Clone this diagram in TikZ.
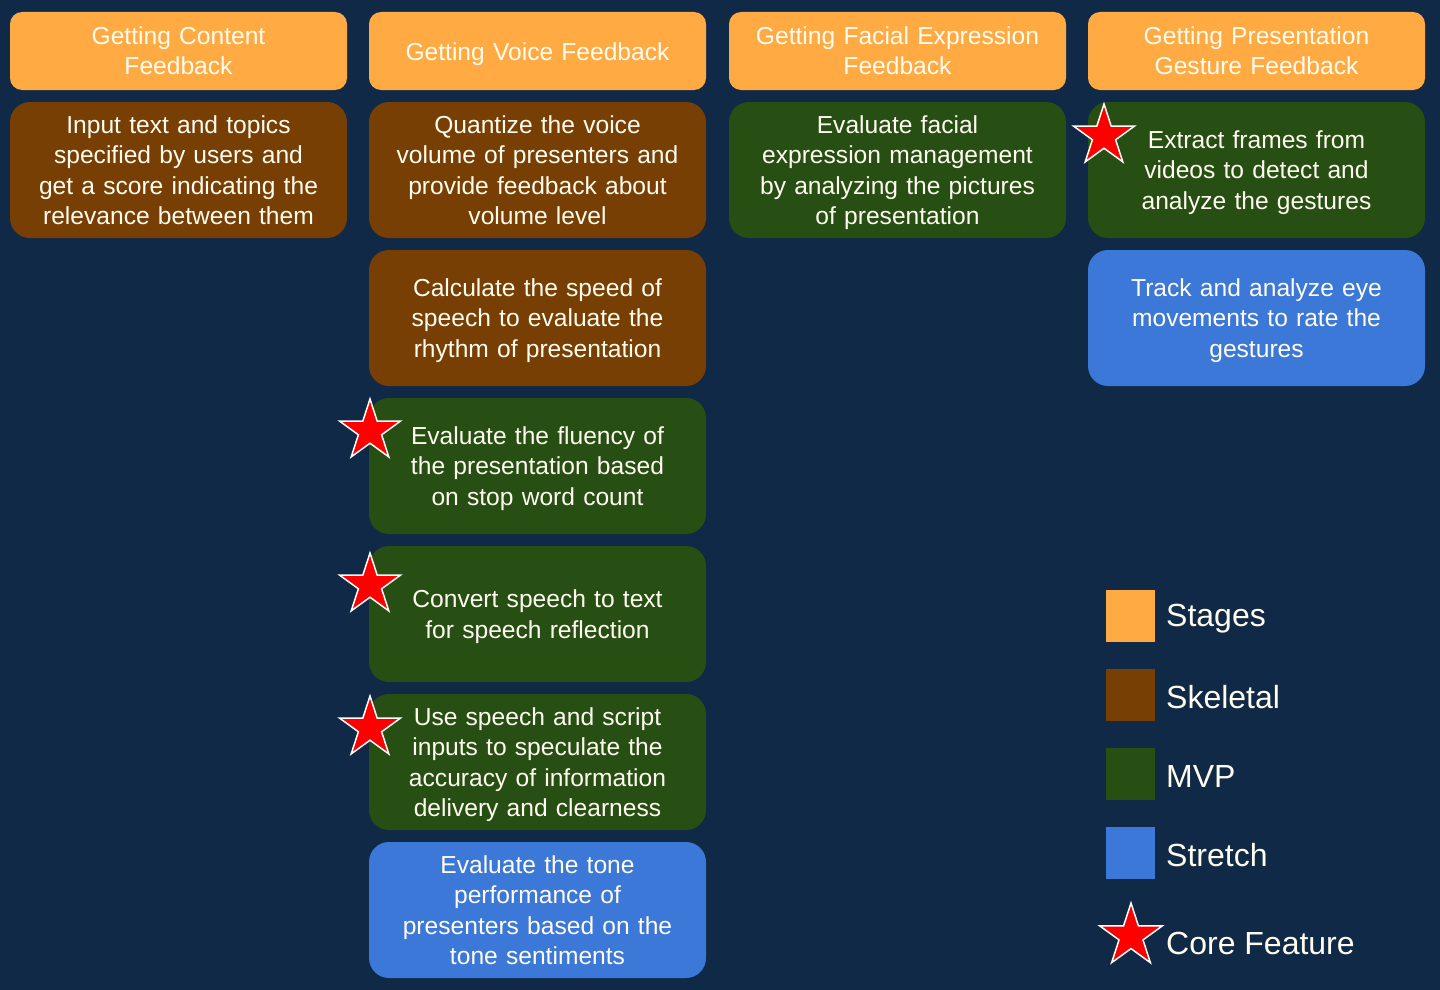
\documentclass[tikz,border=0pt]{standalone}
\usepackage{fontspec}
\setmainfont{Liberation Sans}
\usetikzlibrary{shapes.geometric}
\definecolor{bgnavy}{RGB}{16,41,71}
\definecolor{stagecol}{RGB}{255,170,66}
\definecolor{skelcol}{RGB}{120,63,4}
\definecolor{mvpcol}{RGB}{39,78,19}
\definecolor{stretchcol}{RGB}{60,120,216}
\definecolor{txtcol}{RGB}{255,252,240}
\tikzset{
  % uniform line boxes: fixed top and bottom struts keep every block centred alike
  boxtext/.style={inner sep=0pt, text width=330pt, align=center, text=txtcol,
    execute at begin node={\rule{0pt}{27pt}}, execute at end node={\strut}},
  stagebox/.style={boxtext, fill=stagecol, rounded corners=12pt, minimum width=337pt,
    minimum height=78pt, font=\fontsize{24.6}{30}\selectfont},
  card/.style={boxtext, rounded corners=20pt, minimum width=337pt, minimum height=136pt,
    font=\fontsize{24.6}{30.5}\selectfont},
  skel/.style={card, fill=skelcol},
  mvp/.style={card, fill=mvpcol},
  stretch/.style={card, fill=stretchcol},
  corestar/.style={star, star points=5, star point ratio=2.618, minimum size=64pt,
    inner sep=0pt, fill=red, draw=white, line width=1.5pt},
  keybox/.style={minimum width=49pt, minimum height=52pt, inner sep=0pt},
  keytext/.style={anchor=west, text=txtcol, inner sep=0pt, font=\fontsize{32}{36}\selectfont},
}
\begin{document}
\begin{tikzpicture}[x=1pt,y=-1pt]
\fill[bgnavy] (0,0) rectangle (1440,990);
\useasboundingbox (0,0) rectangle (1440,990);

% stage headers
\node[stagebox] (h1) at (178.5,51) {Getting Content\\Feedback};
\node[stagebox] (h2) at (537.5,51) {Getting Voice Feedback};
\node[stagebox] (h3) at (897.5,51) {Getting Facial Expression\\Feedback};
\node[stagebox] (h4) at (1256.5,51) {Getting Presentation\\Gesture Feedback};

% content column
\node[skel] (c1) at (178.5,170) {Input text and topics\\specified by users and\\get a score indicating the\\relevance between them};

% voice column
\node[skel] (v1) at (537.5,170) {Quantize the voice\\volume of presenters and\\provide feedback about\\volume level};
\node[skel] (v2) at (537.5,318) {Calculate the speed of\\speech to evaluate the\\rhythm of presentation};
\node[mvp] (v3) at (537.5,466) {Evaluate the fluency of\\the presentation based\\on stop word count};
\node[mvp] (v4) at (537.5,614) {Convert speech to text\\for speech reflection};
\node[mvp] (v5) at (537.5,762) {Use speech and script\\inputs to speculate the\\accuracy of information\\delivery and clearness};
\node[stretch] (v6) at (537.5,910) {Evaluate the tone\\performance of\\presenters based on the\\tone sentiments};

% facial column
\node[mvp] (f1) at (897.5,170) {Evaluate facial\\expression management\\by analyzing the pictures\\of presentation};

% gesture column
\node[mvp] (g1) at (1256.5,170) {Extract frames from\\videos to detect and\\analyze the gestures};
\node[stretch] (g2) at (1256.5,318) {Track and analyze eye\\movements to rate the\\gestures};

% core feature marks
\node[corestar] (s1) at (370,431) {};
\node[corestar] (s2) at (370,585) {};
\node[corestar] (s3) at (370,728) {};
\node[corestar] (s4) at (1104,136) {};

% key
\node[keybox, fill=stagecol] (k1) at (1130.5,616) {};
\node[keytext] (t1) at (1166,619) {Stages};
\node[keybox, fill=skelcol] (k2) at (1130.5,695) {};
\node[keytext] (t2) at (1166,697) {Skeletal};
\node[keybox, fill=mvpcol] (k3) at (1130.5,774) {};
\node[keytext] (t3) at (1166,776) {MVP};
\node[keybox, fill=stretchcol] (k4) at (1130.5,853) {};
\node[keytext] (t4) at (1166,855) {Stretch};
\node[corestar, minimum size=66pt] (k5) at (1131,936) {};
\node[keytext] (t5) at (1166,943) {Core Feature};
\end{tikzpicture}
\end{document}
